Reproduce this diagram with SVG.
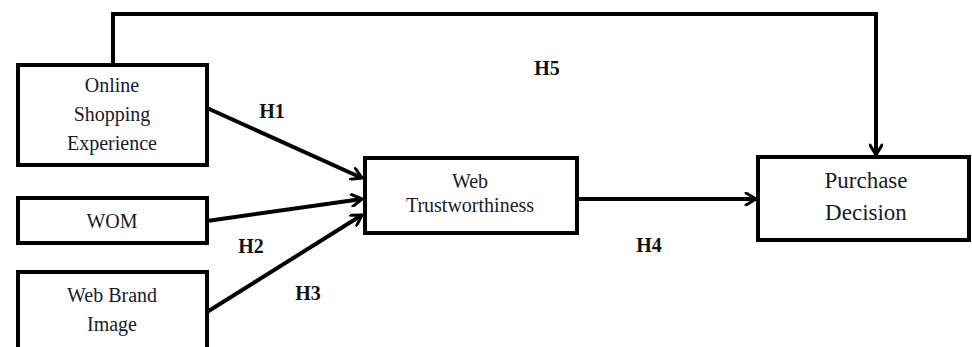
<svg xmlns="http://www.w3.org/2000/svg" width="972" height="347" viewBox="0 0 972 347">
<defs>
<marker id="arr" viewBox="0 0 14 14" refX="12" refY="7" markerWidth="14" markerHeight="14" markerUnits="userSpaceOnUse" orient="auto">
<path d="M2,1 L12,7 L2,13" fill="none" stroke="#000" stroke-width="3" stroke-linecap="round" stroke-linejoin="round"/>
</marker>
</defs>
<style>
.box{fill:#fff;stroke:#000;stroke-width:4}
.t{font-family:"Liberation Serif","Times New Roman",serif;font-size:20px;fill:#1a1a2a;text-anchor:middle}
.tb{font-size:23px}
.h{font-family:"Liberation Serif","Times New Roman",serif;font-size:20px;font-weight:bold;fill:#111;text-anchor:middle}
.c{fill:none;stroke:#000;stroke-width:4;marker-end:url(#arr)}
</style>
<rect width="972" height="347" fill="#fff"/>
<g id="connectors">
<path class="c" d="M113,65 V14 H876 V155"/>
<line class="c" x1="207" y1="108" x2="362" y2="178"/>
<line class="c" x1="207" y1="221" x2="362" y2="199"/>
<line class="c" x1="207" y1="312" x2="362" y2="215"/>
<line class="c" x1="577" y1="199" x2="756" y2="199"/>
</g>
<g id="n1"><rect class="box" x="18" y="65" width="189" height="100"/>
<text class="t" x="112" y="92">Online</text><text class="t" x="112" y="121">Shopping</text><text class="t" x="112" y="150">Experience</text></g>
<g id="n2"><rect class="box" x="18" y="198" width="189" height="45"/>
<text class="t" x="112" y="228">WOM</text></g>
<g id="n3"><rect class="box" x="18" y="272" width="189" height="80"/>
<text class="t" x="112" y="302">Web Brand</text><text class="t" x="112" y="331">Image</text></g>
<g id="n4"><rect class="box" x="365" y="158" width="212" height="75"/>
<text class="t" x="470" y="188">Web</text><text class="t" x="470" y="212">Trustworthiness</text></g>
<g id="n5"><rect class="box" x="758" y="157" width="211" height="83"/>
<text class="t tb" x="866" y="188">Purchase</text><text class="t tb" x="866" y="220">Decision</text></g>
<g id="labels">
<text class="h" x="272" y="118">H1</text>
<text class="h" x="251" y="253">H2</text>
<text class="h" x="308" y="300">H3</text>
<text class="h" x="649" y="252">H4</text>
<text class="h" x="547" y="75">H5</text>
</g>
</svg>
